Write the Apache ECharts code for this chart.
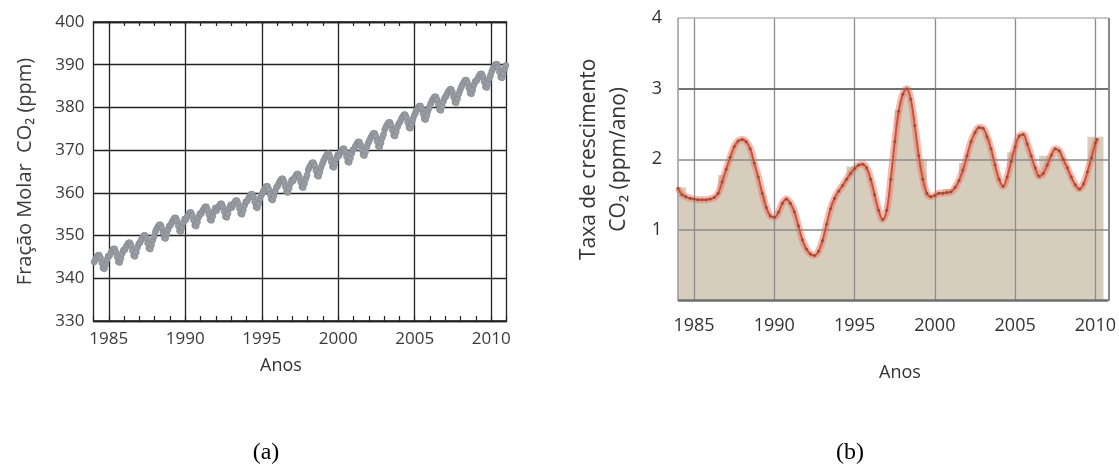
<!DOCTYPE html>
<html>
<head>
<meta charset="utf-8">
<script src="https://cdn.jsdelivr.net/npm/echarts@6/dist/echarts.min.js"></script>
<style>
  html, body { margin: 0; padding: 0; background: #fff; }
  #chart { width: 1119px; height: 467px; }
</style>
</head>
<body>
<div id="chart"></div>
<script>
// (a) Globally averaged CO2 mole fraction, monthly values (ppm), one row per year from 1984
const co2StartYear = 1984;
const co2Monthly = [
  [343.79, 344.42, 344.95, 345.39, 345.42, 344.75, 343.59, 342.42, 342.25, 343.19, 344.32, 345.15],
  [345.26, 345.89, 346.42, 346.86, 346.89, 346.22, 345.06, 343.89, 343.72, 344.66, 345.79, 346.62],
  [346.69, 347.32, 347.85, 348.29, 348.32, 347.65, 346.49, 345.32, 345.15, 346.09, 347.22, 348.05],
  [348.40, 349.03, 349.56, 350.00, 350.03, 349.36, 348.20, 347.03, 346.86, 347.80, 348.93, 349.76],
  [350.88, 351.51, 352.04, 352.48, 352.51, 351.84, 350.68, 349.51, 349.34, 350.28, 351.41, 352.24],
  [352.50, 353.13, 353.66, 354.10, 354.13, 353.46, 352.30, 351.13, 350.96, 351.90, 353.03, 353.86],
  [353.77, 354.40, 354.93, 355.37, 355.40, 354.73, 353.57, 352.40, 352.23, 353.17, 354.30, 355.13],
  [355.11, 355.74, 356.27, 356.71, 356.74, 356.07, 354.91, 353.74, 353.57, 354.51, 355.64, 356.47],
  [355.81, 356.44, 356.97, 357.41, 357.44, 356.77, 355.61, 354.44, 354.27, 355.21, 356.34, 357.17],
  [356.55, 357.18, 357.71, 358.15, 358.18, 357.51, 356.35, 355.18, 355.01, 355.95, 357.08, 357.91],
  [358.05, 358.68, 359.21, 359.65, 359.68, 359.01, 357.85, 356.68, 356.51, 357.45, 358.58, 359.41],
  [359.89, 360.52, 361.05, 361.49, 361.52, 360.85, 359.69, 358.52, 358.35, 359.29, 360.42, 361.25],
  [361.65, 362.28, 362.81, 363.25, 363.28, 362.61, 361.45, 360.28, 360.11, 361.05, 362.18, 363.01],
  [362.77, 363.40, 363.93, 364.37, 364.40, 363.73, 362.57, 361.40, 361.23, 362.17, 363.30, 364.13],
  [365.42, 366.05, 366.58, 367.02, 367.05, 366.38, 365.22, 364.05, 363.88, 364.82, 365.95, 366.78],
  [367.52, 368.15, 368.68, 369.12, 369.15, 368.48, 367.32, 366.15, 365.98, 366.92, 368.05, 368.88],
  [368.68, 369.31, 369.84, 370.28, 370.31, 369.64, 368.48, 367.31, 367.14, 368.08, 369.21, 370.04],
  [370.29, 370.92, 371.45, 371.89, 371.92, 371.25, 370.09, 368.92, 368.75, 369.69, 370.82, 371.65],
  [372.30, 372.93, 373.46, 373.90, 373.93, 373.26, 372.10, 370.93, 370.76, 371.70, 372.83, 373.66],
  [374.86, 375.49, 376.02, 376.46, 376.49, 375.82, 374.66, 373.49, 373.32, 374.26, 375.39, 376.22],
  [376.67, 377.30, 377.83, 378.27, 378.30, 377.63, 376.47, 375.30, 375.13, 376.07, 377.20, 378.03],
  [378.70, 379.33, 379.86, 380.30, 380.33, 379.66, 378.50, 377.33, 377.16, 378.10, 379.23, 380.06],
  [380.87, 381.50, 382.03, 382.47, 382.50, 381.83, 380.67, 379.50, 379.33, 380.27, 381.40, 382.23],
  [382.62, 383.25, 383.78, 384.22, 384.25, 383.58, 382.42, 381.25, 381.08, 382.02, 383.15, 383.98],
  [384.74, 385.37, 385.90, 386.34, 386.37, 385.70, 384.54, 383.37, 383.20, 384.14, 385.27, 386.10],
  [386.22, 386.85, 387.38, 387.82, 387.85, 387.18, 386.02, 384.85, 384.68, 385.62, 386.75, 387.58],
  [388.48, 389.11, 389.64, 390.08, 390.11, 389.44, 388.28, 387.11, 386.94, 387.88, 389.01, 389.84]
];

// (b) Growth rate (ppm/ano): annual columns and the smoothed curve
const growthYears = [1984, 1985, 1986, 1987, 1988, 1989, 1990, 1991, 1992, 1993, 1994, 1995, 1996,
  1997, 1998, 1999, 2000, 2001, 2002, 2003, 2004, 2005, 2006, 2007, 2008, 2009, 2010];
const growthAnnual = [1.60, 1.40, 1.42, 1.78, 2.20, 1.50, 1.15, 0.90, 0.62, 0.60, 1.40, 1.90, 1.15,
  1.10, 2.70, 2.00, 1.45, 1.58, 1.95, 2.30, 1.60, 2.10, 1.85, 2.05, 1.80, 1.60, 2.32];
const growthCurve = [
  [1984.0, 1.59], [1984.25, 1.50], [1984.5, 1.47], [1984.75, 1.45],
  [1985.0, 1.44], [1985.25, 1.43], [1985.5, 1.43], [1985.75, 1.43],
  [1986.0, 1.44], [1986.25, 1.46], [1986.5, 1.52], [1986.75, 1.68],
  [1987.0, 1.86], [1987.25, 2.03], [1987.5, 2.18], [1987.75, 2.26],
  [1988.0, 2.28], [1988.25, 2.25], [1988.5, 2.15], [1988.75, 1.95],
  [1989.0, 1.75], [1989.25, 1.52], [1989.5, 1.32], [1989.75, 1.20],
  [1990.0, 1.18], [1990.25, 1.25], [1990.5, 1.38], [1990.75, 1.44],
  [1991.0, 1.38], [1991.25, 1.26], [1991.5, 1.06], [1991.75, 0.86],
  [1992.0, 0.73], [1992.25, 0.66], [1992.5, 0.64], [1992.75, 0.70],
  [1993.0, 0.85], [1993.25, 1.08], [1993.5, 1.30], [1993.75, 1.45],
  [1994.0, 1.55], [1994.25, 1.63], [1994.5, 1.72], [1994.75, 1.80],
  [1995.0, 1.87], [1995.25, 1.92], [1995.5, 1.93], [1995.75, 1.88],
  [1996.0, 1.72], [1996.25, 1.50], [1996.5, 1.28], [1996.75, 1.15],
  [1997.0, 1.28], [1997.25, 1.72], [1997.5, 2.25], [1997.75, 2.68],
  [1998.0, 2.92], [1998.25, 3.00], [1998.5, 2.85], [1998.75, 2.48],
  [1999.0, 2.05], [1999.25, 1.72], [1999.5, 1.52], [1999.75, 1.47],
  [2000.0, 1.49], [2000.25, 1.52], [2000.5, 1.52], [2000.75, 1.53],
  [2001.0, 1.54], [2001.25, 1.60], [2001.5, 1.70], [2001.75, 1.85],
  [2002.0, 2.05], [2002.25, 2.25], [2002.5, 2.38], [2002.75, 2.45],
  [2003.0, 2.44], [2003.25, 2.32], [2003.5, 2.15], [2003.75, 1.92],
  [2004.0, 1.72], [2004.25, 1.62], [2004.5, 1.75], [2004.75, 1.97],
  [2005.0, 2.18], [2005.25, 2.33], [2005.5, 2.35], [2005.75, 2.22],
  [2006.0, 2.05], [2006.25, 1.88], [2006.5, 1.76], [2006.75, 1.80],
  [2007.0, 1.92], [2007.25, 2.06], [2007.5, 2.15], [2007.75, 2.12],
  [2008.0, 2.00], [2008.25, 1.88], [2008.5, 1.75], [2008.75, 1.64],
  [2009.0, 1.58], [2009.25, 1.65], [2009.5, 1.82], [2009.75, 2.02],
  [2010.0, 2.23], [2010.1, 2.28]
];

// Year gridlines shared by both panels
const gridYears = [1985, 1990, 1995, 2000, 2005, 2010];

const FONT = "'Open Sans', 'DejaVu Sans', sans-serif";
const TAN = '#d6cdbd';

const co2Points = [];
co2Monthly.forEach((row, yi) => {
  row.forEach((v, m) => co2Points.push([co2StartYear + yi + (m + 0.5) / 12, v]));
});
const barPoints = growthYears.map((y, i) => [y, growthAnnual[i]]);
const yearLabel = v => (Math.abs(v % 5) < 1e-6 ? String(Math.round(v)) : '');

// one-year-wide column centred on its year, clipped to the plot area
function renderYearColumn(params, api) {
  const year = api.value(0);
  const rate = api.value(1);
  const topLeft = api.coord([year - 0.5, rate]);
  const bottomRight = api.coord([year + 0.5, 0]);
  const cs = params.coordSys;
  const shape = echarts.graphic.clipRectByRect(
    { x: topLeft[0], y: topLeft[1], width: bottomRight[0] - topLeft[0], height: bottomRight[1] - topLeft[1] },
    { x: cs.x, y: cs.y, width: cs.width, height: cs.height }
  );
  return shape ? { type: 'rect', shape: shape, style: { fill: TAN } } : null;
}

const chart = echarts.init(document.getElementById('chart'), null, { renderer: 'canvas' });
chart.setOption({
  animation: false,
  backgroundColor: '#ffffff',
  grid: [
    { left: 93.5, top: 22, width: 413, height: 299, show: true, borderColor: '#222', borderWidth: 1.3 },
    { left: 678, top: 18, width: 432, height: 282.7, show: false }
  ],
  xAxis: [
    {
      gridIndex: 0, type: 'value', min: 1984, max: 2011, interval: 1, position: 'bottom',
      axisLine: { show: true, lineStyle: { color: '#222', width: 1.3 } },
      axisTick: { show: true, inside: true, length: 5, lineStyle: { color: '#222', width: 1.2 } },
      axisLabel: { formatter: yearLabel, fontSize: 17, fontFamily: FONT, color: '#3a3a3a', margin: 10 },
      splitLine: { show: false }
    },
    {
      gridIndex: 0, type: 'value', min: 1984, max: 2011, interval: 1, position: 'top',
      axisLine: { show: true, lineStyle: { color: '#222', width: 1.3 } },
      axisTick: { show: true, inside: true, length: 4, lineStyle: { color: '#222', width: 1.2 } },
      axisLabel: { show: false },
      splitLine: { show: false }
    },
    {
      gridIndex: 1, type: 'value', min: 1984, max: 2010.8, interval: 1,
      axisLine: { show: false },
      axisTick: { show: false },
      axisLabel: { formatter: yearLabel, fontSize: 18, fontFamily: FONT, color: '#333', margin: 16 },
      splitLine: { show: false }
    }
  ],
  yAxis: [
    {
      gridIndex: 0, type: 'value', min: 330, max: 400, interval: 10,
      axisLine: { show: false }, axisTick: { show: false },
      axisLabel: { fontSize: 17, fontFamily: FONT, color: '#3a3a3a', margin: 9 },
      splitLine: { show: true, lineStyle: { color: '#222', width: 1.3 } },
      name: 'Fração Molar  CO₂ (ppm)', nameLocation: 'middle', nameGap: 58,
      nameTextStyle: { fontSize: 20, fontFamily: FONT, color: '#3a3a3a' }
    },
    {
      gridIndex: 1, type: 'value', min: 0, max: 4, interval: 1,
      axisLine: { show: false }, axisTick: { show: false },
      axisLabel: { formatter: v => (v === 0 ? '' : String(v)), fontSize: 18, fontFamily: FONT, color: '#333', margin: 16 },
      splitLine: { show: false },
      name: 'Taxa de crescimento\nCO₂ (ppm/ano)', nameLocation: 'middle', nameGap: 44,
      nameTextStyle: { fontSize: 21, fontFamily: FONT, color: '#333', lineHeight: 30 }
    }
  ],
  series: [
    {
      // year gridlines, panel (a)
      type: 'line', xAxisIndex: 0, yAxisIndex: 0, data: [], z: 1,
      markLine: {
        z: 1, silent: true, symbol: 'none', label: { show: false },
        lineStyle: { color: '#222', width: 1.3, type: 'solid' },
        data: gridYears.map(y => ({ xAxis: y }))
      }
    },
    {
      name: 'CO2', type: 'line', xAxisIndex: 0, yAxisIndex: 0, z: 3,
      data: co2Points, symbol: 'circle', symbolSize: 6, showSymbol: true,
      lineStyle: { color: '#8e949b', width: 4 },
      itemStyle: { color: '#989da4', borderColor: '#878c93', borderWidth: 0.8 }
    },
    {
      name: 'annual', type: 'custom', xAxisIndex: 2, yAxisIndex: 1, z: 1,
      data: barPoints, encode: { x: 0, y: 1 }, renderItem: renderYearColumn
    },
    {
      name: 'halo', type: 'line', xAxisIndex: 2, yAxisIndex: 1, z: 2,
      data: growthCurve, smooth: 0.4, showSymbol: false,
      lineStyle: { color: 'rgba(238,128,108,0.55)', width: 7 },
      areaStyle: { color: TAN, opacity: 1 }
    },
    {
      // gridlines and frame, panel (b)
      type: 'line', xAxisIndex: 2, yAxisIndex: 1, data: [], z: 3,
      markLine: {
        z: 3, silent: true, symbol: 'none', label: { show: false },
        lineStyle: { color: '#8c8c8c', width: 1.3, type: 'solid' },
        data: gridYears.map(y => ({ xAxis: y })).concat([
          { yAxis: 1, lineStyle: { color: '#8a8a8a', width: 1.6 } },
          { yAxis: 2, lineStyle: { color: '#8a8a8a', width: 1.6 } },
          { yAxis: 3, lineStyle: { color: '#727272', width: 2 } },
          { yAxis: 4, lineStyle: { color: '#b4b4b4', width: 1.6 } },
          { xAxis: 1984, lineStyle: { color: '#a0a0a0', width: 1.6 } },
          { xAxis: 2010.8, lineStyle: { color: '#8a8a8a', width: 2 } },
          { yAxis: 0, lineStyle: { color: '#6e6e6e', width: 2.6 } }
        ])
      }
    },
    {
      name: 'growth', type: 'line', xAxisIndex: 2, yAxisIndex: 1, z: 5,
      data: growthCurve, smooth: 0.4, symbol: 'circle', symbolSize: 3, showSymbol: true,
      lineStyle: { color: '#c8533c', width: 2 },
      itemStyle: { color: '#a04a38' }
    }
  ],
  graphic: [
    { type: 'text', x: 281, y: 366, style: { text: 'Anos', align: 'center', verticalAlign: 'middle', fontSize: 18, fontFamily: FONT, fill: '#333' } },
    { type: 'text', x: 900, y: 373, style: { text: 'Anos', align: 'center', verticalAlign: 'middle', fontSize: 18, fontFamily: FONT, fill: '#333' } },
    { type: 'text', x: 266, y: 453, style: { text: '(a)', align: 'center', verticalAlign: 'middle', fontSize: 24, fontFamily: "'Liberation Serif', 'DejaVu Serif', serif", fill: '#000' } },
    { type: 'text', x: 850, y: 453, style: { text: '(b)', align: 'center', verticalAlign: 'middle', fontSize: 24, fontFamily: "'Liberation Serif', 'DejaVu Serif', serif", fill: '#000' } }
  ]
});
</script>
</body>
</html>
